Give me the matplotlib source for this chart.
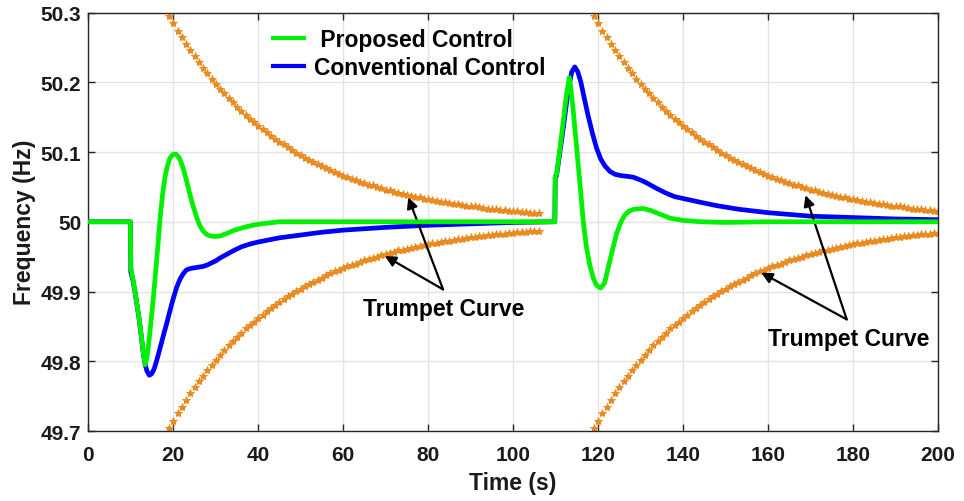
import matplotlib
matplotlib.use("Agg")
import matplotlib.pyplot as plt
import numpy as np

# ---------------- data ----------------
# Proposed control (green)
green_t = [0, 9.9, 10.0, 10.5, 11.0, 11.5, 12.0, 12.5, 13.0, 13.35, 13.8, 14.3, 14.8, 15.3,
           15.8, 16.3, 16.9, 17.5, 18.0, 18.6, 19.2, 19.8, 20.6, 21.4, 22.2, 23.0, 23.8,
           24.6, 25.4, 26.2, 27.0, 27.8, 28.6, 29.4, 30.2, 31.2, 32.5, 34.0, 35.5, 37.3,
           39.5, 42.0, 45.0, 50.0, 109.8,
           109.9, 110.2, 111.0, 111.8, 112.5, 113.2, 113.6, 114.2, 114.8, 115.4, 116.0,
           116.5, 117.2, 118.0, 118.8, 119.6, 120.6, 121.5, 122.4, 123.3, 124.3, 125.3,
           126.2, 127.2, 128.5, 130.6, 132.5, 134.5, 137.0, 140.0, 144.0, 150.0, 160.0, 200.0]
green_f = [50.0, 50.0, 49.935, 49.918, 49.900, 49.880, 49.860, 49.835, 49.810, 49.795, 49.805,
           49.830, 49.860, 49.890, 49.925, 49.960, 50.005, 50.040, 50.062, 50.080, 50.091,
           50.096, 50.097, 50.092, 50.079, 50.062, 50.042, 50.024, 50.008, 49.995, 49.987,
           49.982, 49.980, 49.979, 49.979, 49.980, 49.983, 49.987, 49.990, 49.993, 49.996,
           49.998, 50.000, 50.000, 50.000,
           50.065, 50.068, 50.105, 50.145, 50.180, 50.207, 50.190, 50.155, 50.115, 50.075,
           50.035, 50.000, 49.965, 49.939, 49.920, 49.909, 49.905, 49.912, 49.935, 49.958,
           49.982, 49.999, 50.009, 50.015, 50.018, 50.019, 50.016, 50.011, 50.005, 50.002,
           50.000, 49.999, 50.000, 50.000]

# Conventional control (blue)
blue_t = [0, 9.9, 10.0, 10.5, 11.0, 11.5, 12.0, 12.5, 13.0, 13.35, 13.8, 14.35, 14.9, 15.5,
          16.0, 16.5, 17.2, 17.8, 18.4, 19.2, 20.0, 20.8, 21.6, 22.4, 23.1, 24.0, 25.0,
          26.0, 27.0, 28.0, 29.0, 30.0, 31.0, 32.5, 34.0, 36.0, 38.0, 40.0, 42.5, 45.0,
          50.0, 55.0, 60.0, 70.0, 80.0, 90.0, 100.0, 109.8,
          109.9, 110.2, 111.0, 111.8, 112.5, 113.2, 113.8, 114.5, 115.2, 115.9, 116.7,
          117.6, 118.6, 119.6, 120.6, 121.6, 122.8, 124.0, 125.5, 127.0, 128.2, 129.5,
          131.0, 132.5, 134.0, 136.0, 138.0, 141.0, 144.0, 148.0, 153.0, 160.0, 170.0,
          180.0, 190.0, 200.0]
blue_f = [50.0, 50.0, 49.928, 49.916, 49.899, 49.879, 49.859, 49.834, 49.809, 49.796, 49.786,
          49.780, 49.782, 49.789, 49.799, 49.810, 49.826, 49.840, 49.853, 49.872, 49.890,
          49.906, 49.918, 49.926, 49.931, 49.933, 49.934, 49.935, 49.936, 49.938, 49.941,
          49.944, 49.948, 49.953, 49.958, 49.964, 49.968, 49.971, 49.974, 49.977, 49.981,
          49.985, 49.988, 49.992, 49.995, 49.997, 49.999, 50.000,
          50.065, 50.066, 50.100, 50.135, 50.168, 50.197, 50.215, 50.222, 50.215, 50.201,
          50.178, 50.153, 50.128, 50.106, 50.090, 50.080, 50.072, 50.068, 50.066, 50.065,
          50.064, 50.061, 50.057, 50.052, 50.047, 50.041, 50.036, 50.032, 50.028, 50.023,
          50.018, 50.013, 50.008, 50.006, 50.004, 50.003]

# Trumpet curve: deviation from 50 Hz, one value per second after its start
trumpet_dev = [0.295, 0.285, 0.274, 0.265, 0.255, 0.246, 0.237, 0.229, 0.221, 0.213,
               0.205, 0.198, 0.191, 0.184, 0.177, 0.171, 0.165, 0.159, 0.153, 0.148,
               0.143, 0.138, 0.133, 0.128, 0.123, 0.119, 0.115, 0.111, 0.107, 0.103,
               0.099, 0.096, 0.092, 0.089, 0.086, 0.083, 0.080, 0.077, 0.074, 0.071,
               0.069, 0.066, 0.064, 0.062, 0.060, 0.057, 0.055, 0.053, 0.052, 0.050,
               0.048, 0.046, 0.045, 0.043, 0.041, 0.040, 0.039, 0.037, 0.036, 0.035,
               0.033, 0.032, 0.031, 0.030, 0.029, 0.028, 0.027, 0.026, 0.025, 0.024,
               0.023, 0.022, 0.022, 0.021, 0.020, 0.019, 0.019, 0.018, 0.017, 0.017,
               0.016, 0.016, 0.015, 0.014, 0.014, 0.013, 0.013, 0.013]
trumpet_starts = [19, 119]
trumpet_lengths = [88, 82]

x_ticks = [0, 20, 40, 60, 80, 100, 120, 140, 160, 180, 200]
y_ticks = [49.7, 49.8, 49.9, 50.0, 50.1, 50.2, 50.3]
y_tick_labels = ["49.7", "49.8", "49.9", "50", "50.1", "50.2", "50.3"]

legend_labels = [" Proposed Control", "Conventional Control"]
annot_text = "Trumpet Curve"

# ---------------- plot ----------------
plt.rcParams['font.family'] = ['Liberation Sans', 'DejaVu Sans']
plt.rcParams['font.weight'] = 'bold'

fig = plt.figure(figsize=(9.64, 5.02), dpi=100)
ax = fig.add_axes([0.0916, 0.1394, 0.8815, 0.8337])

orange = '#EA8A1F'
for start, n in zip(trumpet_starts, trumpet_lengths):
    tt = np.arange(start, start + n)
    dd = np.array(trumpet_dev[:n])
    ax.plot(tt, 50 + dd, linestyle='none', marker='*', ms=6, color=orange,
            mec=orange, mew=0.7, zorder=2)
    ax.plot(tt, 50 - dd, linestyle='none', marker='*', ms=6, color=orange,
            mec=orange, mew=0.7, zorder=2)

lb, = ax.plot(blue_t, blue_f, color='#0000FF', lw=3.4, zorder=3, solid_joinstyle='round')
lg, = ax.plot(green_t, green_f, color='#00F000', lw=3.4, zorder=4, solid_joinstyle='round')

ax.set_xlim(0, 200)
ax.set_ylim(49.7, 50.3)
ax.set_xticks(x_ticks)
ax.set_xticklabels([str(v) for v in x_ticks])
ax.set_yticks(y_ticks)
ax.set_yticklabels(y_tick_labels)
ax.grid(True, color='#E3E3E3', lw=1.0)
ax.set_axisbelow(True)
ax.tick_params(direction='in', length=5, width=1, top=True, right=True,
               labelsize=15, colors='#262626')
ax.tick_params(axis='x', pad=10)
ax.tick_params(axis='y', pad=5)
for lab in ax.get_xticklabels() + ax.get_yticklabels():
    lab.set_fontweight('bold')
    lab.set_color('#1a1a1a')
for sp in ax.spines.values():
    sp.set_color('#262626')
    sp.set_linewidth(1.0)

ax.set_xlabel("Time (s)", fontsize=16.5, fontweight='bold', labelpad=5, color='#1a1a1a')
ax.set_ylabel("Frequency (Hz)", fontsize=16.5, fontweight='bold', labelpad=3, color='#1a1a1a')

leg = ax.legend([lg, lb], legend_labels, loc='upper left', bbox_to_anchor=(0.2174, 0.962),
                frameon=False, fontsize=16.5, handlelength=1.35, handletextpad=0.43,
                labelspacing=0.2, borderaxespad=0, borderpad=0)
for t in leg.get_texts():
    t.set_fontweight('bold')
for h in leg.get_lines():
    h.set_linewidth(3.0)

arrow_kw = dict(arrowstyle='-|>', color='black', lw=1.6, mutation_scale=16,
                shrinkA=0, shrinkB=0)
# first annotation
ax.annotate("", xy=(75.3, 50.035), xytext=(83.5, 49.903), arrowprops=arrow_kw)
ax.annotate("", xy=(69.8, 49.951), xytext=(83.5, 49.903), arrowprops=arrow_kw)
ax.text(83.6, 49.876, annot_text, fontsize=16.5, fontweight='bold', ha='center', va='center')
# second annotation
ax.annotate("", xy=(168.8, 50.038), xytext=(178.5, 49.860), arrowprops=arrow_kw)
ax.annotate("", xy=(158.4, 49.927), xytext=(178.5, 49.860), arrowprops=arrow_kw)
ax.text(179.0, 49.833, annot_text, fontsize=16.5, fontweight='bold', ha='center', va='center')

fig.savefig("out.png", dpi=100)
